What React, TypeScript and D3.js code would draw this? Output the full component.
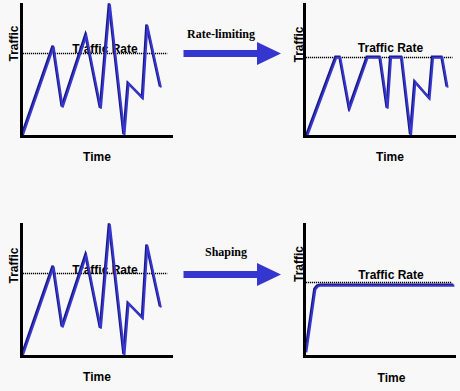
import { useEffect, useRef } from 'react';
import * as d3 from 'd3';

// bursty input traffic (left panels, top and bottom)
const burstyTime = [1, 21.5, 27.5, 43.3, 53, 59, 68.7, 71.5, 81, 84, 93];
const burstyTraffic = [1, 68, 22, 76.5, 21, 100, 1, 40, 29, 84, 37];
const burstyRate = 63;

// after rate-limiting (top right)
const limitedTime = [1.8, 21.3, 24, 30.2, 42.2, 50.7, 55.5, 57.8, 65.1, 71.1, 74, 83.5, 85.8, 92, 95.5];
const limitedTraffic = [0, 59.6, 59.6, 21, 59.6, 59.6, 21, 59.6, 59.6, 0.8, 41, 28.6, 59.6, 59.6, 37];
const limitedRate = 59.6;

// after shaping (bottom right)
const shapedTime = [1.3, 7.3, 9, 11.1, 100];
const shapedTraffic = [3, 50.5, 53, 53.6, 53.6];
const shapedRate = 56.3;

const yLabel = 'Traffic';
const xLabel = 'Time';
const rateLabel = 'Traffic Rate';
const arrowLabels = ['Rate-limiting', 'Shaping'];

const W = 460;
const H = 391;
const BLUE = '#3636d0';
const NAVY = '#18187a';
const SANS = '"Liberation Sans", Arial, sans-serif';

type Panel = {
  time: number[];
  traffic: number[];
  rate: number;
  ox: number;
  oy: number;
  timeX: number;
  timeY: number;
  trafY: number;
  trafX: number;
  rateX: number;
  rateY: number;
  rateEnd: number;
};

const panels: Panel[] = [
  { time: burstyTime, traffic: burstyTraffic, rate: burstyRate, ox: 21, oy: 136,
    timeX: 97, timeY: 160.5, trafX: 17.5, trafY: 43.5, rateX: 105, rateY: 53, rateEnd: 97.5 },
  { time: limitedTime, traffic: limitedTraffic, rate: limitedRate, ox: 304, oy: 136,
    timeX: 390, timeY: 160.5, trafX: 303, trafY: 44.5, rateX: 390.5, rateY: 51.5, rateEnd: 99 },
  { time: burstyTime, traffic: burstyTraffic, rate: burstyRate, ox: 21, oy: 356,
    timeX: 97, timeY: 380.5, trafX: 18, trafY: 265.5, rateX: 105, rateY: 273.5, rateEnd: 97.5 },
  { time: shapedTime, traffic: shapedTraffic, rate: shapedRate, ox: 304, oy: 356,
    timeX: 391.5, timeY: 381.5, trafX: 303, trafY: 264, rateX: 391, rateY: 279, rateEnd: 98.5 },
];

const Chart = () => {
  const svgRef = useRef<SVGSVGElement>(null);

  useEffect(() => {
    const svg = d3.select(svgRef.current);
    svg.selectAll('*').remove();

    svg.append('rect').attr('width', W).attr('height', H).attr('fill', '#f8f8f8');

    panels.forEach(p => {
      const x = d3.scaleLinear().domain([0, 100]).range([p.ox, p.ox + 150]);
      const y = d3.scaleLinear().domain([0, 100]).range([p.oy, p.oy - 132]);
      const g = svg.append('g');

      // rate threshold
      g.append('line')
        .attr('x1', x(0)).attr('x2', x(p.rateEnd))
        .attr('y1', Math.round(y(p.rate)) + 0.5).attr('y2', Math.round(y(p.rate)) + 0.5)
        .attr('stroke', '#000').attr('stroke-width', 1.4)
        .attr('stroke-dasharray', '1.2,0.8');

      g.append('text')
        .attr('x', p.rateX).attr('y', p.rateY)
        .attr('text-anchor', 'middle')
        .style('font-family', SANS).style('font-weight', 'bold').style('font-size', '12px')
        .text(rateLabel);

      // traffic line: dark edge under a blue stroke
      const pts = p.time.map((t, i) => [t, p.traffic[i]] as [number, number]);
      const line = d3.line<[number, number]>().x(d => x(d[0])).y(d => y(d[1]));
      g.append('path')
        .datum(pts)
        .attr('transform', 'translate(-0.6,-0.6)')
        .attr('fill', 'none')
        .attr('stroke', NAVY)
        .attr('stroke-width', 2.4)
        .attr('d', line);
      g.append('path')
        .datum(pts)
        .attr('transform', 'translate(0.4,0.4)')
        .attr('fill', 'none')
        .attr('stroke', BLUE)
        .attr('stroke-width', 2)
        .attr('d', line);

      // axes without ticks
      const xAxis = g.append('g')
        .attr('transform', `translate(0,${p.oy})`)
        .call(d3.axisBottom(x).tickValues([]).tickSizeOuter(0));
      const yAxis = g.append('g')
        .attr('transform', `translate(${p.ox},0)`)
        .call(d3.axisLeft(y).tickValues([]).tickSizeOuter(0));
      [xAxis, yAxis].forEach(a => a.select('.domain')
        .attr('stroke', '#000').attr('stroke-width', 3).attr('stroke-linecap', 'square'));

      g.append('text')
        .attr('x', p.timeX).attr('y', p.timeY)
        .attr('text-anchor', 'middle')
        .style('font-family', SANS).style('font-weight', 'bold').style('font-size', '12px')
        .text(xLabel);

      g.append('text')
        .attr('transform', `translate(${p.trafX},${p.trafY}) rotate(-90)`)
        .attr('text-anchor', 'middle')
        .style('font-family', SANS).style('font-weight', 'bold').style('font-size', '12px')
        .text(yLabel);
    });

    // arrows between panels
    const arrows = [
      { label: arrowLabels[0], tx: 221, ty: 37.5, cy: 53.5 },
      { label: arrowLabels[1], tx: 226, ty: 255.5, cy: 274.5 },
    ];
    arrows.forEach(a => {
      svg.append('text')
        .attr('x', a.tx).attr('y', a.ty)
        .attr('text-anchor', 'middle')
        .style('font-family', '"Liberation Serif", "Times New Roman", serif')
        .style('font-weight', 'bold').style('font-size', '12px')
        .text(a.label);
      const path = d3.path();
      path.moveTo(183.5, a.cy - 3.5);
      path.lineTo(257, a.cy - 3.5);
      path.lineTo(257, a.cy - 11.5);
      path.lineTo(281, a.cy);
      path.lineTo(257, a.cy + 11.5);
      path.lineTo(257, a.cy + 3.5);
      path.lineTo(183.5, a.cy + 3.5);
      path.closePath();
      svg.append('path').attr('d', path.toString()).attr('fill', '#3535cf');
    });
  }, []);

  return (
    <svg ref={svgRef} width={W} height={H} style={{ position: 'absolute', left: 0, top: 0 }} />
  );
};

export default function App() {
  return <Chart />;
}
